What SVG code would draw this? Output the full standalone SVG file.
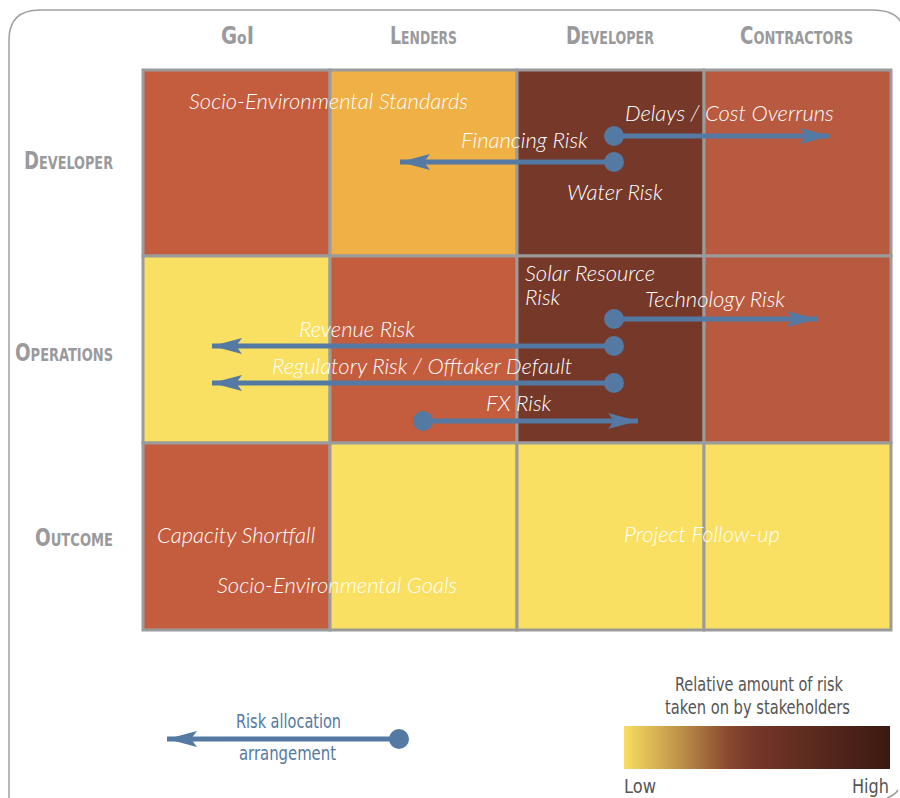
<svg xmlns="http://www.w3.org/2000/svg" width="900" height="798" viewBox="0 0 900 798">
<style>
.hdr{font-family:"DejaVu Sans Condensed","Liberation Sans",sans-serif;font-weight:bold;fill:#9a9a9c;font-size:24px}
.sc{font-size:17px}
.lbl{font-family:Lato,"Open Sans",sans-serif;font-style:italic;font-weight:300;fill:#ffffff;font-size:22px}
.cell{stroke:#9b9b9b;stroke-width:3}
.arr{stroke:#5479a3;stroke-width:5;fill:none}
.dot{fill:#5479a3}
.leg{font-family:"DejaVu Sans Condensed","Liberation Sans",sans-serif;font-size:20px}
</style>
<defs>
<marker id="ah" viewBox="0 0 30 16" refX="30" refY="8" markerWidth="30" markerHeight="16" markerUnits="userSpaceOnUse" orient="auto">
<path d="M0,0 L30,8 L0,16 L6,8 Z" fill="#5479a3"/>
</marker>
<linearGradient id="grad" x1="0" y1="0" x2="1" y2="0">
<stop offset="0" stop-color="#f8de60"/>
<stop offset="0.18" stop-color="#c79c4d"/>
<stop offset="0.4" stop-color="#86462e"/>
<stop offset="0.5" stop-color="#743628"/>
<stop offset="1" stop-color="#3a1911"/>
</linearGradient>
</defs>
<rect width="900" height="798" fill="#ffffff"/>
<path d="M9,798 L9,40 Q9,10 40,10 L872,10 Q901,10 903,30" fill="none" stroke="#9f9f9f" stroke-width="1.5"/>
<path d="M887,798 Q895,795 898,790" fill="none" stroke="#9f9f9f" stroke-width="1.5"/>

<g id="headers">
<text class="hdr" x="221" y="44" textLength="33" lengthAdjust="spacingAndGlyphs">G<tspan class="sc">o</tspan>I</text>
<text class="hdr" x="390" y="44" textLength="67" lengthAdjust="spacingAndGlyphs">L<tspan class="sc">ENDERS</tspan></text>
<text class="hdr" x="566" y="44" textLength="88" lengthAdjust="spacingAndGlyphs">D<tspan class="sc">EVELOPER</tspan></text>
<text class="hdr" x="740" y="44" textLength="113" lengthAdjust="spacingAndGlyphs">C<tspan class="sc">ONTRACTORS</tspan></text>
<text class="hdr" x="24" y="169" textLength="89" lengthAdjust="spacingAndGlyphs">D<tspan class="sc">EVELOPER</tspan></text>
<text class="hdr" x="15" y="361" textLength="98" lengthAdjust="spacingAndGlyphs">O<tspan class="sc">PERATIONS</tspan></text>
<text class="hdr" x="35" y="546" textLength="78" lengthAdjust="spacingAndGlyphs">O<tspan class="sc">UTCOME</tspan></text>
</g>

<g id="grid">
<rect class="cell" x="143" y="70" width="187" height="186" fill="#c45c3e"/>
<rect class="cell" x="330" y="70" width="187" height="186" fill="#efb045"/>
<rect class="cell" x="517" y="70" width="187" height="186" fill="#763829"/>
<rect class="cell" x="704" y="70" width="187" height="186" fill="#b85a3f"/>
<rect class="cell" x="143" y="256" width="187" height="187" fill="#f9e063"/>
<rect class="cell" x="330" y="256" width="187" height="187" fill="#c45c3e"/>
<rect class="cell" x="517" y="256" width="187" height="187" fill="#763829"/>
<rect class="cell" x="704" y="256" width="187" height="187" fill="#b85a3f"/>
<rect class="cell" x="143" y="443" width="187" height="187" fill="#c45c3e"/>
<rect class="cell" x="330" y="443" width="187" height="187" fill="#f9e063"/>
<rect class="cell" x="517" y="443" width="187" height="187" fill="#f9e063"/>
<rect class="cell" x="704" y="443" width="187" height="187" fill="#f9e063"/>
</g>

<g id="labels">
<text class="lbl" x="189" y="109">Socio-Environmental Standards</text>
<text class="lbl" x="625" y="121">Delays / Cost Overruns</text>
<text class="lbl" x="461" y="148">Financing Risk</text>
<text class="lbl" x="567" y="200">Water Risk</text>
<text class="lbl" x="525" y="281">Solar Resource</text>
<text class="lbl" x="525" y="305">Risk</text>
<text class="lbl" x="645" y="307">Technology Risk</text>
<text class="lbl" x="299" y="337">Revenue Risk</text>
<text class="lbl" x="272" y="374">Regulatory Risk / Offtaker Default</text>
<text class="lbl" x="486" y="411">FX Risk</text>
<text class="lbl" x="157" y="543">Capacity Shortfall</text>
<text class="lbl" x="217" y="593">Socio-Environmental Goals</text>
<text class="lbl" x="624" y="542">Project Follow-up</text>
</g>

<g id="connectors">
<line class="arr" x1="614" y1="136" x2="830" y2="136" marker-end="url(#ah)"/>
<circle class="dot" cx="614" cy="136" r="10"/>
<line class="arr" x1="614" y1="162" x2="400" y2="162" marker-end="url(#ah)"/>
<circle class="dot" cx="614" cy="162" r="10"/>
<line class="arr" x1="614" y1="319" x2="817" y2="319" marker-end="url(#ah)"/>
<circle class="dot" cx="614" cy="319" r="10"/>
<line class="arr" x1="614" y1="346" x2="212" y2="346" marker-end="url(#ah)"/>
<circle class="dot" cx="614" cy="346" r="10"/>
<line class="arr" x1="614" y1="383" x2="212" y2="383" marker-end="url(#ah)"/>
<circle class="dot" cx="614" cy="383" r="10"/>
<line class="arr" x1="423" y1="421" x2="638" y2="421" marker-end="url(#ah)"/>
<circle class="dot" cx="423" cy="421" r="10"/>
</g>

<g id="legend-arrow">
<line class="arr" x1="399" y1="739" x2="167" y2="739" marker-end="url(#ah)"/>
<circle class="dot" cx="399" cy="739" r="10"/>
<text class="leg" x="236" y="728" textLength="105" lengthAdjust="spacingAndGlyphs" fill="#5479a3">Risk allocation</text>
<text class="leg" x="239" y="760" textLength="97" lengthAdjust="spacingAndGlyphs" fill="#5479a3">arrangement</text>
</g>

<g id="legend-scale">
<text class="leg" x="675" y="691" textLength="168" lengthAdjust="spacingAndGlyphs" fill="#555555">Relative amount of risk</text>
<text class="leg" x="665" y="714" textLength="185" lengthAdjust="spacingAndGlyphs" fill="#555555">taken on by stakeholders</text>
<rect x="624" y="726" width="266" height="43" fill="url(#grad)"/>
<text class="leg" x="624" y="793" textLength="32" lengthAdjust="spacingAndGlyphs" fill="#555555">Low</text>
<text class="leg" x="852" y="793" textLength="37" lengthAdjust="spacingAndGlyphs" fill="#555555">High</text>
</g>
</svg>
